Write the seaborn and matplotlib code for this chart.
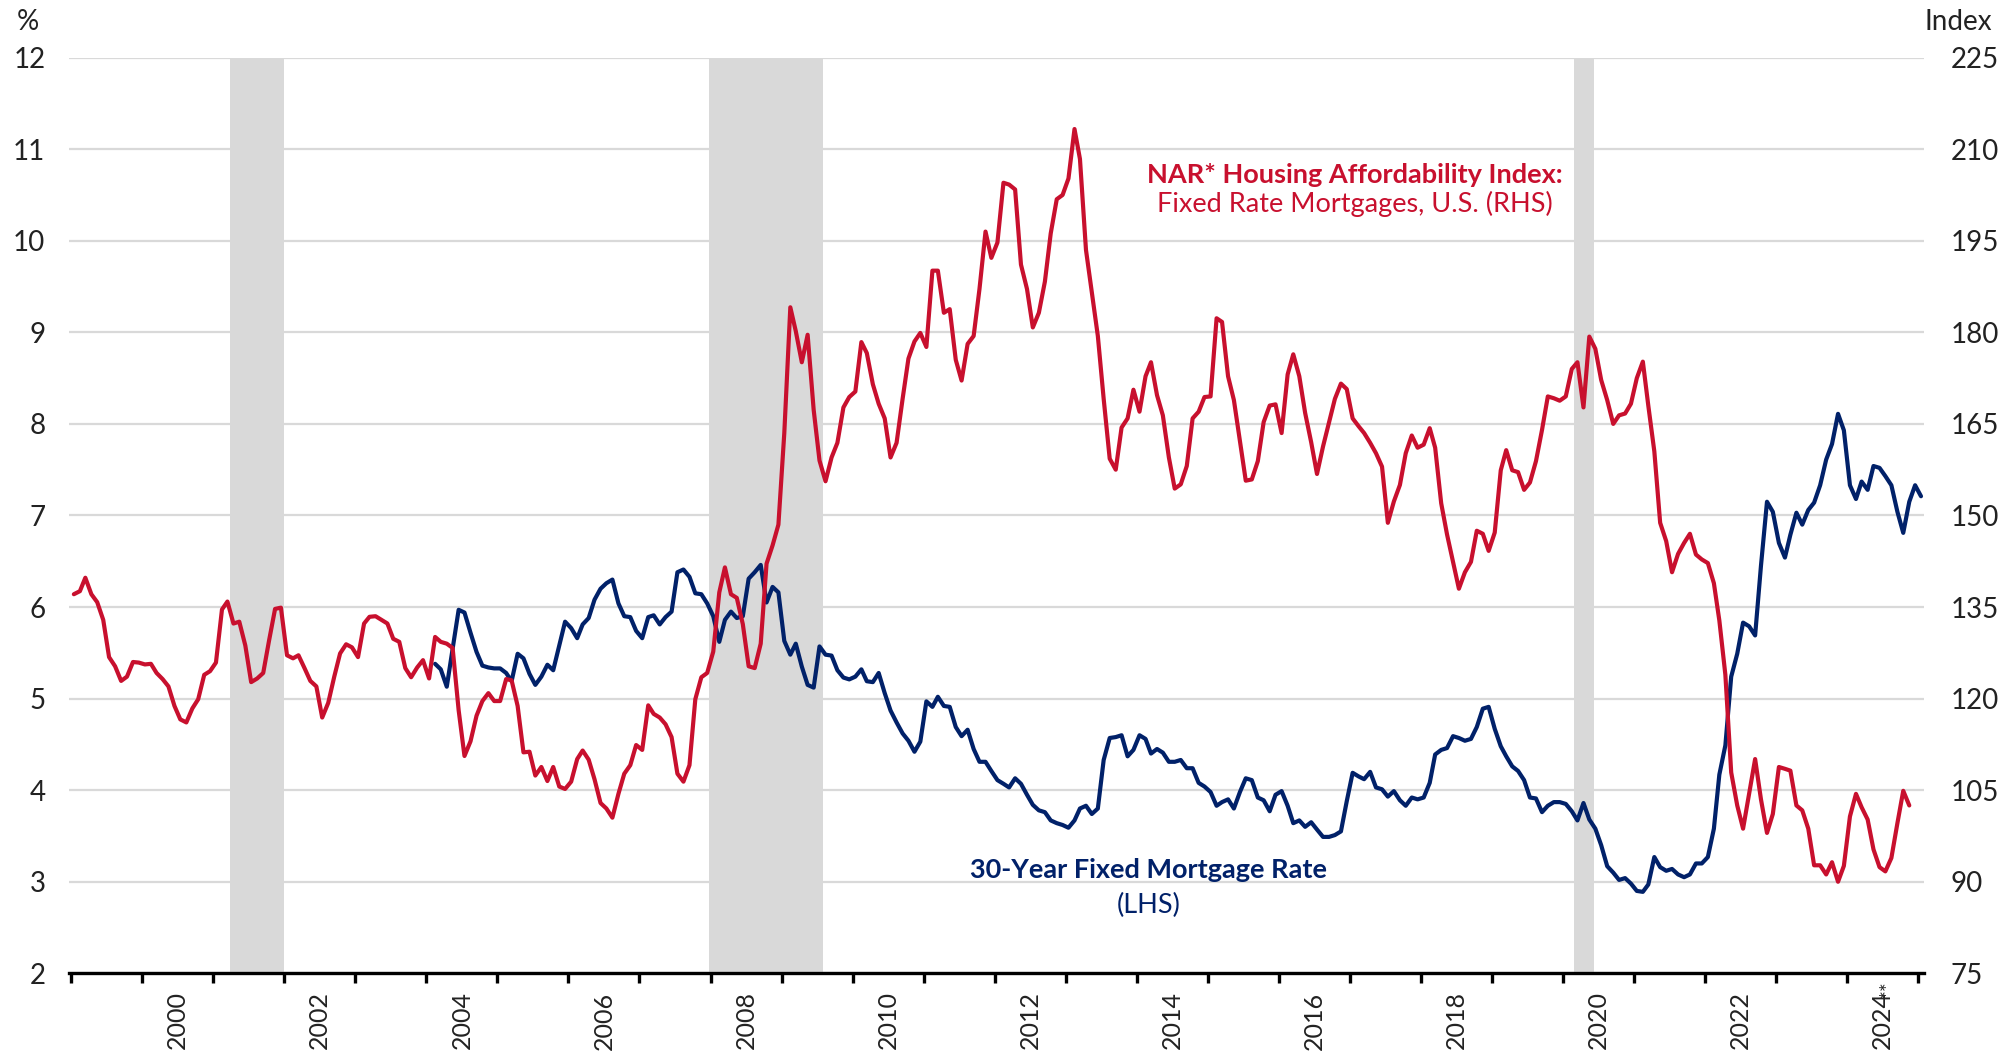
import numpy as np
import pandas as pd
import matplotlib
matplotlib.use("Agg")
import matplotlib.pyplot as plt
import seaborn as sns

# ---------------- data ----------------
afford_start = "1999-01"          # NAR Housing Affordability Index (RHS), monthly
afford_index = [
    137.1, 137.6, 139.8, 137.1, 135.8, 132.9, 126.8, 125.3, 122.9, 123.6,
    126.0, 125.9, 125.6, 125.7, 124.2, 123.2, 122.0, 118.8, 116.6, 116.1,
    118.4, 119.9, 123.9, 124.5, 125.9, 134.6, 135.9, 132.3, 132.6, 128.7,
    122.7, 123.3, 124.2, 129.5, 134.7, 134.9, 127.1, 126.6, 127.1, 125.0,
    122.9, 122.0, 116.9, 119.3, 123.6, 127.4, 128.9, 128.4, 126.8, 132.3,
    133.4, 133.5, 132.9, 132.3, 129.8, 129.3, 125.0, 123.5, 125.1, 126.3,
    123.3, 130.1, 129.3, 129.0, 128.3, 118.1, 110.6, 113.0, 117.2, 119.6,
    120.9, 119.6, 119.6, 123.2, 123.0, 118.8, 111.2, 111.3, 107.4, 108.8,
    106.5, 108.8, 105.6, 105.2, 106.4, 110.1, 111.5, 110.0, 106.8, 102.9,
    102.0, 100.5, 104.4, 107.7, 109.1, 112.4, 111.6, 118.9, 117.5, 116.9,
    115.8, 113.7, 107.7, 106.4, 109.1, 119.9,
    123.5, 124.2, 127.7, 137.4, 141.5, 137.1, 136.5, 132.2, 125.3, 125.0,
    129.0, 142.1, 145.1, 148.5, 163.5, 184.1, 180.2, 175.1, 179.6, 167.3,
    159.0, 155.6, 159.5, 161.9, 167.7, 169.4, 170.3, 178.4, 176.6, 171.5,
    168.3, 165.9, 159.5, 161.9, 169.1, 175.7, 178.5, 179.9, 177.6, 190.1,
    190.1, 183.2, 183.8, 175.5, 172.1, 178.1, 179.4, 187.1, 196.5, 192.2,
    194.7, 204.5, 204.2, 203.4, 191.1, 187.1, 180.8, 183.2, 188.3, 196.2,
    201.8, 202.5, 205.2, 213.3, 208.4, 193.5, 186.5, 179.4, 169.1, 159.3,
    157.5, 164.4, 165.9, 170.6, 167.0, 172.8, 175.1, 169.7, 166.4, 159.5,
    154.4, 155.1, 158.1, 165.9, 167.0, 169.4, 169.5, 182.3, 181.7, 172.8,
    168.9, 162.2, 155.7, 155.9, 158.9, 165.3, 168.0, 168.2, 163.5, 173.1,
    176.4, 172.8, 166.8, 162.0, 156.8, 161.3, 165.3, 169.1, 171.6, 170.7,
    165.9, 164.6, 163.5, 161.9, 160.2, 158.0, 148.8, 152.3, 155.0, 160.2,
    163.1, 161.1, 161.6, 164.3, 161.1, 152.0, 146.9, 142.4, 138.0, 140.7,
    142.4, 147.5, 147.0, 144.2, 147.2, 157.4, 160.7, 157.4, 157.1, 154.2,
    155.4, 158.9, 164.0, 169.5, 169.2, 168.8, 169.5, 174.0, 175.1, 167.7,
    179.3, 177.3, 172.2, 168.9, 165.0, 166.4, 166.7, 168.3, 172.5, 175.2,
    168.0, 160.5, 148.8, 145.8, 140.7, 143.7, 145.5, 147.0, 143.6, 142.8,
    142.2, 138.9, 132.8, 123.9, 107.9, 102.5, 98.7, 104.4, 110.1, 103.5,
    98.0, 101.1, 108.8, 108.5, 108.2, 102.5, 101.7, 98.7, 92.7, 92.7,
    91.2, 93.2, 90.0, 92.6, 100.7, 104.4, 102.2, 100.2, 95.3, 92.4,
    91.7, 93.9, 99.6, 104.9, 102.5,
]

rate_start = "2004-02"            # 30-year fixed mortgage rate (LHS), monthly, %
mortgage_rate = [
    5.38, 5.32, 5.13, 5.54, 5.97, 5.94, 5.72, 5.51, 5.36, 5.34,
    5.33, 5.33, 5.28, 5.19, 5.49, 5.44, 5.27, 5.15, 5.24, 5.37,
    5.31, 5.58, 5.84, 5.77, 5.66, 5.81, 5.88, 6.08, 6.20, 6.26,
    6.30, 6.04, 5.90, 5.89, 5.74, 5.66, 5.89, 5.91, 5.81, 5.89,
    5.95, 6.38, 6.41, 6.33, 6.15,
    6.14, 6.04, 5.90, 5.62, 5.86, 5.95, 5.88, 5.90, 6.31, 6.38,
    6.46, 6.05, 6.22, 6.16, 5.63, 5.48, 5.60, 5.35, 5.15, 5.12,
    5.57, 5.48, 5.47, 5.31, 5.23, 5.21, 5.24, 5.32, 5.19, 5.18,
    5.28, 5.06, 4.87, 4.74, 4.62, 4.54, 4.42, 4.53, 4.97, 4.91,
    5.02, 4.92, 4.91, 4.69, 4.59, 4.66, 4.45, 4.31, 4.31, 4.21,
    4.11, 4.07, 4.03, 4.13, 4.07, 3.95, 3.84, 3.78, 3.76, 3.67,
    3.64, 3.62, 3.59, 3.67, 3.80, 3.83, 3.74, 3.80, 4.33, 4.57,
    4.58, 4.60, 4.37, 4.44, 4.60, 4.56, 4.40, 4.45, 4.41, 4.31,
    4.31, 4.33, 4.24, 4.24, 4.08, 4.04, 3.98, 3.83, 3.87, 3.90,
    3.80, 3.98, 4.13, 4.11, 3.92, 3.89, 3.77, 3.95, 3.99, 3.83,
    3.64, 3.67, 3.60, 3.65, 3.57, 3.49, 3.49, 3.51, 3.55, 3.88,
    4.19, 4.15, 4.12, 4.20, 4.03, 4.01, 3.93, 3.99, 3.89, 3.83,
    3.92, 3.90, 3.92, 4.08, 4.39, 4.44, 4.46, 4.59, 4.57, 4.54,
    4.56, 4.69, 4.89, 4.91, 4.67, 4.48, 4.37, 4.26, 4.21, 4.11,
    3.92, 3.91, 3.76, 3.83, 3.87, 3.87, 3.85, 3.77, 3.67, 3.86,
    3.68, 3.58, 3.40, 3.17, 3.10, 3.02, 3.04, 2.98, 2.90, 2.89,
    2.97, 3.27, 3.16, 3.12, 3.14, 3.08, 3.05, 3.08, 3.20, 3.20,
    3.27, 3.58, 4.17, 4.49, 5.24, 5.49, 5.83, 5.79, 5.69, 6.45,
    7.15, 7.04, 6.70, 6.54, 6.79, 7.03, 6.90, 7.06, 7.14, 7.33,
    7.61, 7.78, 8.11, 7.93, 7.33, 7.18, 7.37, 7.28, 7.54, 7.52,
    7.43, 7.33, 7.04, 6.81, 7.15, 7.33, 7.21,
]

recession_start = [2001.23, 2007.98, 2020.16]
recession_end = [2002.00, 2009.59, 2020.43]

year_ticks = [1999, 2000, 2001, 2002, 2003, 2004, 2005, 2006, 2007, 2008, 2009,
              2010, 2011, 2012, 2013, 2014, 2015, 2016, 2017, 2018, 2019, 2020,
              2021, 2022, 2023, 2024, 2025]
label_years = [2000, 2002, 2004, 2006, 2008, 2010, 2012, 2014, 2016, 2018,
               2020, 2022, 2024]
label_texts = ["2000", "2002", "2004", "2006", "2008", "2010", "2012", "2014",
               "2016", "2018", "2020", "2022", "2024"]
left_ticks = [2, 3, 4, 5, 6, 7, 8, 9, 10, 11, 12]
right_ticks = [75, 90, 105, 120, 135, 150, 165, 180, 195, 210, 225]

RED = "#c8102e"
NAVY = "#012169"
GRID = "#d9d9d9"
TXT = "#222222"


def decimal_years(start, n):
    d = pd.date_range(start, periods=n, freq="MS") + pd.Timedelta(days=14)
    return d.year + (d.dayofyear - 1) / 365.25


afford_df = pd.DataFrame({"t": decimal_years(afford_start, len(afford_index)),
                          "v": afford_index})
rate_df = pd.DataFrame({"t": decimal_years(rate_start, len(mortgage_rate)),
                        "v": mortgage_rate})

# ---------------- style ----------------
sns.set_theme(style="white")
plt.rcParams["font.family"] = ["Lato", "DejaVu Sans"]

fig = plt.figure(figsize=(20.06, 10.55), dpi=100)
ax = fig.add_axes([0.0344, 0.0774, 0.9247, 0.868])
ax.set_xlim(1998.97, 2025.08)
ax.set_ylim(2, 12)

ax.set_yticks(left_ticks)
ax.grid(axis="y", color=GRID, lw=1.6)
ax.grid(axis="x", visible=False)
ax.set_axisbelow(True)

for a, b in zip(recession_start, recession_end):
    ax.axvspan(a, b, color=GRID, lw=0, zorder=1.5)

sns.lineplot(data=rate_df, x="t", y="v", ax=ax, color=NAVY, lw=3.0, zorder=3,
             legend=False)

ax2 = ax.twinx()
ax2.set_ylim(75, 225)
ax2.set_yticks(right_ticks)
sns.lineplot(data=afford_df, x="t", y="v", ax=ax2, color=RED, lw=3.0, zorder=3,
             legend=False)
ax2.grid(False)

for s in ["top", "left", "right"]:
    ax.spines[s].set_visible(False)
for s in ["top", "left", "right", "bottom"]:
    ax2.spines[s].set_visible(False)
ax.spines["bottom"].set_color("black")
ax.spines["bottom"].set_linewidth(2.4)

ax.set_xlabel("")
ax.set_ylabel("")
ax2.set_xlabel("")
ax2.set_ylabel("")

ax.set_xticks(year_ticks)
ax.set_xticklabels([])
ax.set_xticks(np.array(label_years) + 0.5, minor=True)
ax.set_xticklabels(label_texts, minor=True, rotation=90)
ax.tick_params(axis="x", which="major", direction="out", length=7, width=2.4,
               color="black", bottom=True)
ax.tick_params(axis="x", which="minor", length=0, pad=13, labelsize=18,
               labelcolor=TXT)
ax.tick_params(axis="y", length=0, pad=17, labelsize=20, labelcolor=TXT)
ax2.tick_params(axis="y", length=0, pad=19, labelsize=20, labelcolor=TXT)

# "**" footnote mark on the last year label
ax.annotate("**", xy=(2024.58, 0), xycoords=("data", "axes fraction"),
            xytext=(0, -5), textcoords="offset points", rotation=90,
            ha="center", va="top", fontsize=15, color=TXT)

# axis unit labels
fig.text(28 / 2006, 1 - 22 / 1055, "%", ha="center", va="center",
         fontsize=20, color=TXT)
fig.text(1992 / 2006, 1 - 22 / 1055, "Index", ha="right", va="center",
         fontsize=20, color=TXT)

# series annotations
ax.text(2017.07, 10.72, "NAR* Housing Affordability Index:", color=RED,
        fontsize=19.5, fontweight="bold", ha="center", va="center", zorder=5)
ax.text(2017.07, 10.40, "Fixed Rate Mortgages, U.S. (RHS)", color=RED,
        fontsize=19.5, ha="center", va="center", zorder=5)
ax.text(2014.17, 3.13, "30-Year Fixed Mortgage Rate", color=NAVY,
        fontsize=19.5, fontweight="bold", ha="center", va="center", zorder=5)
ax.text(2014.17, 2.74, "(LHS)", color=NAVY,
        fontsize=19.5, ha="center", va="center", zorder=5)

fig.savefig("out.png", dpi=100)
